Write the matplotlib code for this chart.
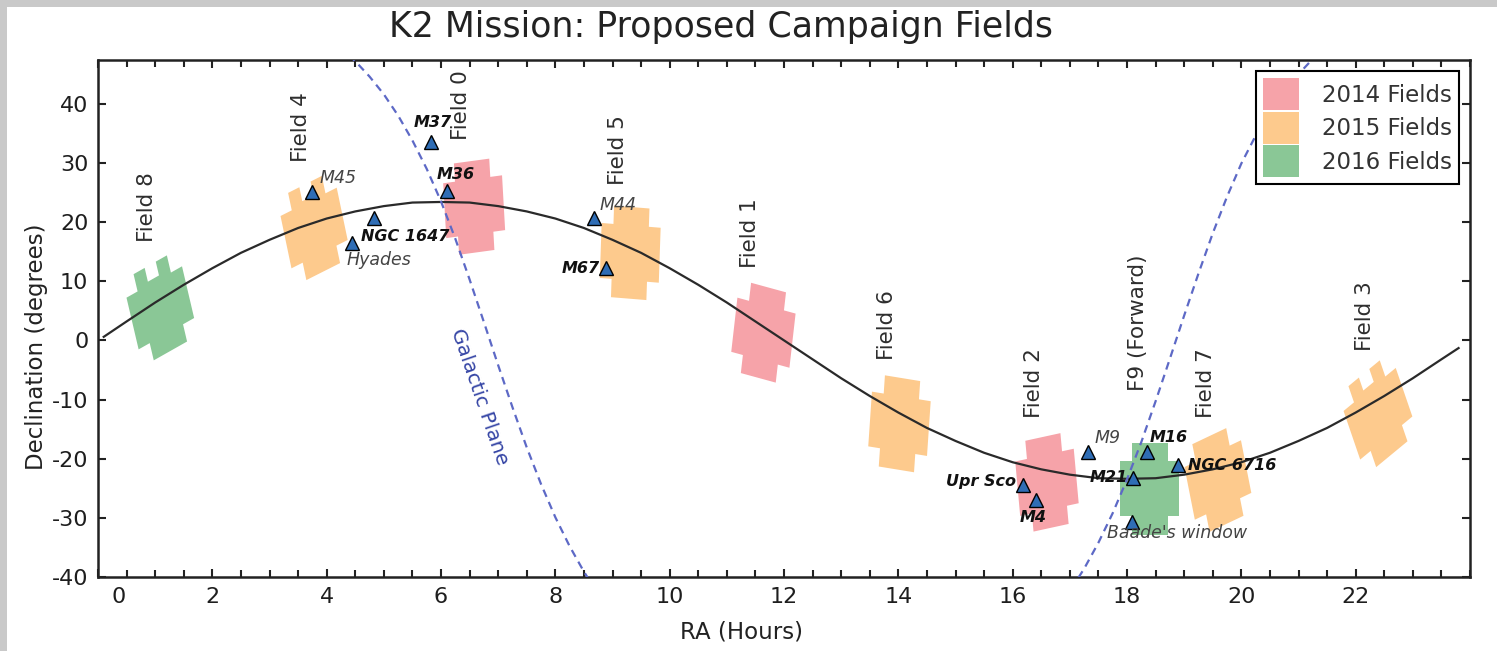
import numpy as np
import matplotlib
matplotlib.use('Agg')
import matplotlib.pyplot as plt
import matplotlib.transforms as mtransforms
from matplotlib.patches import Polygon, Patch, Rectangle
from matplotlib.ticker import MultipleLocator

plt.rcParams['font.family'] = ['DejaVu Sans']
plt.rcParams['axes.unicode_minus'] = False

#region Data
# ecliptic, dec read every half hour of RA
ecl_ra = [0.1] + [i / 2 for i in range(1, 48)] + [23.8]
ecl_dec = [0.6, 3.2, 6.4, 9.4, 12.2, 14.8, 17.0, 19.0, 20.6, 21.8, 22.7, 23.3, 23.4,
           23.3, 22.7, 21.8, 20.6, 19.0, 17.0, 14.8, 12.2, 9.4, 6.4, 3.2, 0.0,
           -3.2, -6.4, -9.4, -12.2, -14.8, -17.0, -19.0, -20.6, -21.8, -22.7, -23.3, -23.4,
           -23.3, -22.7, -21.8, -20.6, -19.0, -17.0, -14.8, -12.2, -9.4, -6.4, -3.2, -1.3]

# galactic plane, two branches
gal_ra_w = [3.9, 4.25, 4.5, 4.75, 5.0, 5.25, 5.5, 5.75, 6.0, 6.25, 6.5, 6.75, 7.0,
            7.25, 7.5, 7.75, 8.0, 8.25, 8.5, 8.75]
gal_dec_w = [53.0, 49.5, 47.2, 44.6, 41.6, 38.0, 33.8, 29.0, 23.5, 17.2, 10.3, 3.1, -4.2,
             -11.3, -18.1, -24.3, -29.9, -34.8, -39.1, -42.9]
gal_ra_e = [16.75, 17.0, 17.25, 17.5, 17.75, 18.0, 18.25, 18.5, 18.75, 19.0, 19.25, 19.5,
            19.75, 20.0, 20.25, 20.5, 20.75, 21.0, 21.25, 21.5]
gal_dec_e = [-45.7, -42.4, -38.6, -34.2, -29.2, -23.5, -17.2, -10.3, -3.1, 4.2, 11.3, 18.1,
             24.3, 29.9, 34.6, 38.6, 42.0, 45.0, 47.6, 50.0]

# campaign fields
field_names = ['Field 8', 'Field 4', 'Field 0', 'Field 5', 'Field 1', 'Field 6',
               'Field 2', 'F9 (Forward)', 'Field 7', 'Field 3']
field_ra = [1.09, 3.78, 6.58, 9.31, 11.64, 14.02, 16.60, 18.40, 19.59, 22.39]
field_dec = [5.5, 19.0, 22.6, 14.8, 1.3, -14.1, -24.0, -25.1, -23.6, -12.4]
field_year = [2016, 2015, 2014, 2015, 2014, 2015, 2014, 2016, 2015, 2015]
field_roll = [20, 18, 5, -3, -10, -6, 8, 0, 17, 28]
field_dead = [True, True, False, False, False, False, False, False, False, True]
label_ra = [0.86, 3.55, 6.35, 9.10, 11.41, 13.81, 16.37, 18.19, 19.38, 22.16]
label_dec = [22.6, 36.1, 39.8, 32.2, 18.2, 2.6, -7.2, 2.9, -7.2, 4.1]

# targets (triangles)
obj_ra = [3.75, 4.83, 4.45, 5.83, 6.11, 8.68, 8.89, 16.18, 16.40, 17.31, 18.35, 18.10, 18.89, 18.08]
obj_dec = [25.1, 20.7, 16.5, 33.6, 25.3, 20.7, 12.3, -24.4, -27.0, -18.9, -18.9, -23.3, -21.1, -30.7]

lab_text = ['M45', 'NGC 1647', 'Hyades', 'M37', 'M36', 'M44', 'M67', 'Upr Sco', 'M4',
            'M9', 'M16', 'M21', 'NGC 6716', "Baade's window"]
lab_ra = [3.87, 4.60, 4.34, 5.53, 5.93, 8.77, 8.77, 16.05, 16.35, 17.44, 18.40, 18.01, 19.06, 17.65]
lab_dec = [27.5, 17.5, 13.6, 36.8, 28.0, 22.9, 12.1, -23.9, -29.9, -16.5, -16.5, -23.1, -21.1, -32.6]
lab_ha = ['left', 'left', 'left', 'left', 'left', 'left', 'right', 'right', 'center',
          'left', 'left', 'right', 'left', 'left']
lab_bold = [False, True, False, True, True, False, True, True, True, False, True, True, True, False]

years = [2014, 2015, 2016]
x_ticks = [0, 2, 4, 6, 8, 10, 12, 14, 16, 18, 20, 22]
y_ticks = [-40, -30, -20, -10, 0, 10, 20, 30, 40]
#endregion

colors = {2014: '#f6a3a9', 2015: '#fdca8d', 2016: '#8ac796'}

# Kepler footprint: 5x5 modules minus corners (module units)
cross = np.array([(-1.5, 2.5), (1.5, 2.5), (1.5, 1.5), (2.5, 1.5), (2.5, -1.5), (1.5, -1.5),
                  (1.5, -2.5), (-1.5, -2.5), (-1.5, -1.5), (-2.5, -1.5), (-2.5, 1.5), (-1.5, 1.5)])
cross_dead = np.array([(-1.5, 2.5), (-0.5, 2.5), (-0.5, 1.7), (0.5, 1.7), (0.5, 2.5),
                       (1.5, 2.5), (1.5, 1.5), (2.5, 1.5), (2.5, -1.5), (1.5, -1.5),
                       (1.5, -2.5), (-1.5, -2.5), (-1.5, -1.5), (-2.5, -1.5), (-2.5, 1.5),
                       (-1.5, 1.5)])
module_deg = 3.1

fig = plt.figure(figsize=(14.97, 6.51), dpi=100, facecolor='#c9c9c9')
fig.patches.append(Rectangle((7 / 1497, 0), 1 - 7 / 1497, 1 - 7 / 651,
                             transform=fig.transFigure, facecolor='white',
                             edgecolor='none', zorder=-1))
ax = fig.add_axes([98 / 1497, 1 - 577 / 651, (1470 - 98) / 1497, (577 - 60) / 651])

# fields
for ra, dec, yr, roll, dead in zip(field_ra, field_dec, field_year, field_roll, field_dead):
    shape = cross_dead if dead else cross
    th = np.radians(roll)
    px = shape[:, 0] * np.cos(th) - shape[:, 1] * np.sin(th)
    py = shape[:, 0] * np.sin(th) + shape[:, 1] * np.cos(th)
    xy = np.column_stack([ra + px * module_deg / 15.0, dec + py * module_deg])
    ax.add_patch(Polygon(xy, closed=True, facecolor=colors[yr], edgecolor='none', zorder=1))

for name, x, y in zip(field_names, label_ra, label_dec):
    ax.text(x, y, name, rotation=90, ha='center', va='center', fontsize=15.5,
            color='#2e2e2e', zorder=5)

# ecliptic and galactic plane
ax.plot(ecl_ra, ecl_dec, color='#2a2a2a', lw=1.6, zorder=3)
for gx, gy in [(gal_ra_w, gal_dec_w), (gal_ra_e, gal_dec_e)]:
    ax.plot(gx, gy, color='#5d69c6', lw=1.6, ls=(0, (3.5, 2.5)), zorder=3)
ax.text(6.67, -9.6, 'Galactic Plane', rotation=-71, ha='center', va='center',
        fontsize=14.5, color='#3545a5', zorder=5)

# targets
ax.plot(obj_ra, obj_dec, ls='none', marker='^', ms=10, mfc='#2f6db5', mec='black',
        mew=1.0, zorder=6)
for t, x, y, ha, b in zip(lab_text, lab_ra, lab_dec, lab_ha, lab_bold):
    if b:
        ax.text(x, y, t, ha=ha, va='center', fontsize=11.5, fontstyle='italic',
                fontweight='bold', color='#111111', zorder=7)
    else:
        ax.text(x, y, t, ha=ha, va='center', fontsize=12.5, fontstyle='italic',
                color='#444444', zorder=7)

ax.set_xlim(0, 24)
ax.set_ylim(-40, 47.4)
ax.set_xticks(x_ticks)
ax.set_xticklabels([str(t) for t in x_ticks])
ax.xaxis.set_minor_locator(MultipleLocator(0.5))
ax.set_yticks(y_ticks)
ax.set_yticklabels([str(t) for t in y_ticks])
ax.tick_params(axis='both', which='both', direction='in', top=True, right=True,
               width=1.5, color='#222222', labelsize=16, labelcolor='#1e1e1e')
ax.tick_params(axis='both', which='major', length=6, pad=7)
ax.tick_params(axis='x', which='minor', length=5)
for s in ax.spines.values():
    s.set_linewidth(1.8)
    s.set_color('#222222')

# the "0" label sits a little right of its tick
lab0 = ax.xaxis.get_major_ticks()[0].label1
lab0.set_transform(lab0.get_transform() + mtransforms.ScaledTranslation(0.21, 0, fig.dpi_scale_trans))

ax.set_xlabel('RA (Hours)', fontsize=16.5, color='#222222')
ax.xaxis.label.set_va('center')
ax.xaxis.set_label_coords(0.4687, -0.106)
ax.set_ylabel('Declination (degrees)', fontsize=16.5, color='#222222')
ax.yaxis.label.set_va('center')
ax.yaxis.set_label_coords(-0.0445, 0.445)

fig.text(721 / 1497, 1 - 37 / 651, 'K2 Mission: Proposed Campaign Fields', ha='center',
         va='baseline', fontsize=25, color='#222222')

handles = [Patch(facecolor=colors[y], edgecolor='none', label='%d Fields' % y) for y in years]
leg = ax.legend(handles=handles, loc='upper right', fontsize=16.5, frameon=True,
                fancybox=False, framealpha=1, edgecolor='black', borderpad=0.3,
                handlelength=1.55, handleheight=1.75, handletextpad=1.0,
                labelspacing=0.08, borderaxespad=0.5)
leg.get_frame().set_linewidth(1.5)
for t in leg.get_texts():
    t.set_color('#333333')

fig.savefig('out.png', dpi=100, facecolor=fig.get_facecolor())
